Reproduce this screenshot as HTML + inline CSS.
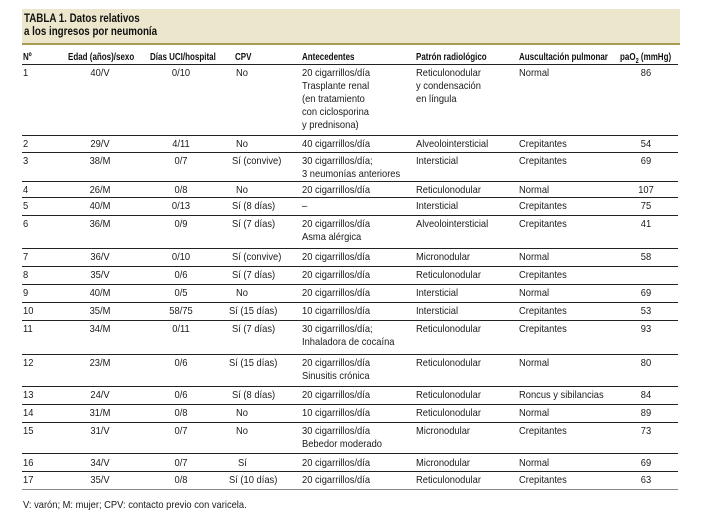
<!DOCTYPE html>
<html><head><meta charset="utf-8"><style>
body{margin:0;width:702px;height:515px;background:#fff;position:relative;overflow:hidden;font-family:"Liberation Sans",sans-serif;color:#1a1a1a}
.c{position:absolute;white-space:nowrap;font-size:10.5px;line-height:13px;transform:scaleX(.89);transform-origin:0 0}
.m{transform:translateX(-50%) scaleX(.89);transform-origin:50% 0}
.h{font-weight:bold;font-size:10px;transform:scaleX(.8);color:#111}
.l{position:absolute;left:22px;width:656px;height:1px;background:#222}
.ban{position:absolute;left:22px;top:9px;width:658px;height:34px;background:#ece6cc;border-bottom:2px solid #a89c55}
.t{position:absolute;left:24px;top:13px;font-weight:bold;font-size:11.5px;line-height:13px;transform:scaleX(.85);transform-origin:0 0;color:#111;white-space:nowrap}
</style></head><body>
<div class="ban"></div>
<div class="t">TABLA 1. Datos relativos<br>a los ingresos por neumonía</div>
<div class="c h" style="left:23px;top:51px">Nº</div>
<div class="c h" style="left:68px;top:51px">Edad (años)/sexo</div>
<div class="c h" style="left:150px;top:51px">Días UCI/hospital</div>
<div class="c h" style="left:235px;top:51px">CPV</div>
<div class="c h" style="left:302px;top:51px">Antecedentes</div>
<div class="c h" style="left:416px;top:51px">Patrón radiológico</div>
<div class="c h" style="left:519px;top:51px">Auscultación pulmonar</div>
<div class="c h" style="left:620px;top:51px">paO<sub style="font-size:7px">2</sub> (mmHg)</div>
<div class="l" style="top:64px"></div>

<div class="l" style="top:135px"></div><div class="l" style="top:152px"></div><div class="l" style="top:181px"></div><div class="l" style="top:197px"></div><div class="l" style="top:215px"></div><div class="l" style="top:248px"></div><div class="l" style="top:266px"></div><div class="l" style="top:284px"></div><div class="l" style="top:302px"></div><div class="l" style="top:320px"></div><div class="l" style="top:354px"></div><div class="l" style="top:386px"></div><div class="l" style="top:404px"></div><div class="l" style="top:422px"></div><div class="l" style="top:453px"></div><div class="l" style="top:471px"></div><div class="l" style="top:489px;background:#888"></div>

<div class="c" style="left:23px;top:67px">1</div><div class="c m" style="left:100px;top:67px">40/V</div><div class="c m" style="left:181px;top:67px">0/10</div><div class="c" style="left:236px;top:67px">No</div><div class="c" style="left:302px;top:67px">20 cigarrillos/día<br>Trasplante renal<br>(en tratamiento<br>con ciclosporina<br>y prednisona)</div><div class="c" style="left:416px;top:67px">Reticulonodular<br>y condensación<br>en língula</div><div class="c" style="left:519px;top:67px">Normal</div><div class="c m" style="left:646px;top:67px">86</div>

<div class="c" style="left:23px;top:138px">2</div><div class="c m" style="left:100px;top:138px">29/V</div><div class="c m" style="left:181px;top:138px">4/11</div><div class="c" style="left:236px;top:138px">No</div><div class="c" style="left:302px;top:138px">40 cigarrillos/día</div><div class="c" style="left:416px;top:138px">Alveolointersticial</div><div class="c" style="left:519px;top:138px">Crepitantes</div><div class="c m" style="left:646px;top:138px">54</div>

<div class="c" style="left:23px;top:155px">3</div><div class="c m" style="left:100px;top:155px">38/M</div><div class="c m" style="left:181px;top:155px">0/7</div><div class="c" style="left:232px;top:155px">Sí (convive)</div><div class="c" style="left:302px;top:155px">30 cigarrillos/día;<br>3 neumonías anteriores</div><div class="c" style="left:416px;top:155px">Intersticial</div><div class="c" style="left:519px;top:155px">Crepitantes</div><div class="c m" style="left:646px;top:155px">69</div>

<div class="c" style="left:23px;top:184px">4</div><div class="c m" style="left:100px;top:184px">26/M</div><div class="c m" style="left:181px;top:184px">0/8</div><div class="c" style="left:236px;top:184px">No</div><div class="c" style="left:302px;top:184px">20 cigarrillos/día</div><div class="c" style="left:416px;top:184px">Reticulonodular</div><div class="c" style="left:519px;top:184px">Normal</div><div class="c m" style="left:646px;top:184px">107</div>

<div class="c" style="left:23px;top:200px">5</div><div class="c m" style="left:100px;top:200px">40/M</div><div class="c m" style="left:181px;top:200px">0/13</div><div class="c" style="left:232px;top:200px">Sí (8 días)</div><div class="c" style="left:302px;top:200px">–</div><div class="c" style="left:416px;top:200px">Intersticial</div><div class="c" style="left:519px;top:200px">Crepitantes</div><div class="c m" style="left:646px;top:200px">75</div>

<div class="c" style="left:23px;top:218px">6</div><div class="c m" style="left:100px;top:218px">36/M</div><div class="c m" style="left:181px;top:218px">0/9</div><div class="c" style="left:232px;top:218px">Sí (7 días)</div><div class="c" style="left:302px;top:218px">20 cigarrillos/día<br>Asma alérgica</div><div class="c" style="left:416px;top:218px">Alveolointersticial</div><div class="c" style="left:519px;top:218px">Crepitantes</div><div class="c m" style="left:646px;top:218px">41</div>

<div class="c" style="left:23px;top:251px">7</div><div class="c m" style="left:100px;top:251px">36/V</div><div class="c m" style="left:181px;top:251px">0/10</div><div class="c" style="left:232px;top:251px">Sí (convive)</div><div class="c" style="left:302px;top:251px">20 cigarrillos/día</div><div class="c" style="left:416px;top:251px">Micronodular</div><div class="c" style="left:519px;top:251px">Normal</div><div class="c m" style="left:646px;top:251px">58</div>

<div class="c" style="left:23px;top:269px">8</div><div class="c m" style="left:100px;top:269px">35/V</div><div class="c m" style="left:181px;top:269px">0/6</div><div class="c" style="left:232px;top:269px">Sí (7 días)</div><div class="c" style="left:302px;top:269px">20 cigarrillos/día</div><div class="c" style="left:416px;top:269px">Reticulonodular</div><div class="c" style="left:519px;top:269px">Crepitantes</div>

<div class="c" style="left:23px;top:287px">9</div><div class="c m" style="left:100px;top:287px">40/M</div><div class="c m" style="left:181px;top:287px">0/5</div><div class="c" style="left:236px;top:287px">No</div><div class="c" style="left:302px;top:287px">20 cigarrillos/día</div><div class="c" style="left:416px;top:287px">Intersticial</div><div class="c" style="left:519px;top:287px">Normal</div><div class="c m" style="left:646px;top:287px">69</div>

<div class="c" style="left:23px;top:305px">10</div><div class="c m" style="left:100px;top:305px">35/M</div><div class="c m" style="left:181px;top:305px">58/75</div><div class="c" style="left:229px;top:305px">Sí (15 días)</div><div class="c" style="left:302px;top:305px">10 cigarrillos/día</div><div class="c" style="left:416px;top:305px">Intersticial</div><div class="c" style="left:519px;top:305px">Crepitantes</div><div class="c m" style="left:646px;top:305px">53</div>

<div class="c" style="left:23px;top:323px">11</div><div class="c m" style="left:100px;top:323px">34/M</div><div class="c m" style="left:181px;top:323px">0/11</div><div class="c" style="left:232px;top:323px">Sí (7 días)</div><div class="c" style="left:302px;top:323px">30 cigarrillos/día;<br>Inhaladora de cocaína</div><div class="c" style="left:416px;top:323px">Reticulonodular</div><div class="c" style="left:519px;top:323px">Crepitantes</div><div class="c m" style="left:646px;top:323px">93</div>

<div class="c" style="left:23px;top:357px">12</div><div class="c m" style="left:100px;top:357px">23/M</div><div class="c m" style="left:181px;top:357px">0/6</div><div class="c" style="left:229px;top:357px">Sí (15 días)</div><div class="c" style="left:302px;top:357px">20 cigarrillos/día<br>Sinusitis crónica</div><div class="c" style="left:416px;top:357px">Reticulonodular</div><div class="c" style="left:519px;top:357px">Normal</div><div class="c m" style="left:646px;top:357px">80</div>

<div class="c" style="left:23px;top:389px">13</div><div class="c m" style="left:100px;top:389px">24/V</div><div class="c m" style="left:181px;top:389px">0/6</div><div class="c" style="left:232px;top:389px">Sí (8 días)</div><div class="c" style="left:302px;top:389px">20 cigarrillos/día</div><div class="c" style="left:416px;top:389px">Reticulonodular</div><div class="c" style="left:519px;top:389px">Roncus y sibilancias</div><div class="c m" style="left:646px;top:389px">84</div>

<div class="c" style="left:23px;top:407px">14</div><div class="c m" style="left:100px;top:407px">31/M</div><div class="c m" style="left:181px;top:407px">0/8</div><div class="c" style="left:236px;top:407px">No</div><div class="c" style="left:302px;top:407px">10 cigarrillos/día</div><div class="c" style="left:416px;top:407px">Reticulonodular</div><div class="c" style="left:519px;top:407px">Normal</div><div class="c m" style="left:646px;top:407px">89</div>

<div class="c" style="left:23px;top:425px">15</div><div class="c m" style="left:100px;top:425px">31/V</div><div class="c m" style="left:181px;top:425px">0/7</div><div class="c" style="left:236px;top:425px">No</div><div class="c" style="left:302px;top:425px">30 cigarrillos/día<br>Bebedor moderado</div><div class="c" style="left:416px;top:425px">Micronodular</div><div class="c" style="left:519px;top:425px">Crepitantes</div><div class="c m" style="left:646px;top:425px">73</div>

<div class="c" style="left:23px;top:457px">16</div><div class="c m" style="left:100px;top:457px">34/V</div><div class="c m" style="left:181px;top:457px">0/7</div><div class="c" style="left:238px;top:457px">Sí</div><div class="c" style="left:302px;top:457px">20 cigarrillos/día</div><div class="c" style="left:416px;top:457px">Micronodular</div><div class="c" style="left:519px;top:457px">Normal</div><div class="c m" style="left:646px;top:457px">69</div>

<div class="c" style="left:23px;top:474px">17</div><div class="c m" style="left:100px;top:474px">35/V</div><div class="c m" style="left:181px;top:474px">0/8</div><div class="c" style="left:229px;top:474px">Sí (10 días)</div><div class="c" style="left:302px;top:474px">20 cigarrillos/día</div><div class="c" style="left:416px;top:474px">Reticulonodular</div><div class="c" style="left:519px;top:474px">Crepitantes</div><div class="c m" style="left:646px;top:474px">63</div>

<div class="c" style="left:23px;top:499px">V: varón; M: mujer; CPV: contacto previo con varicela.</div>
</body></html>
